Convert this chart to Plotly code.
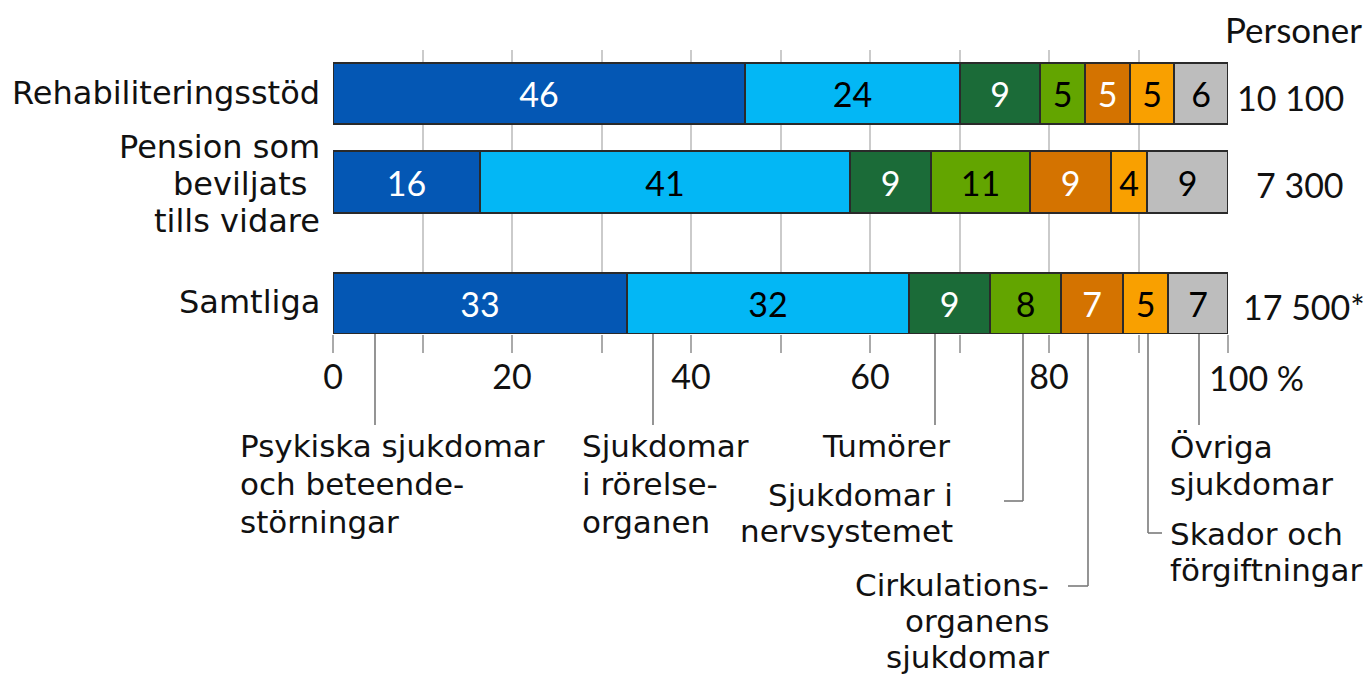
import plotly.graph_objects as go

# ---------------- data ----------------
groups = [["Rehabiliteringsstöd"], ["Pension som", "beviljats", "tills vidare"], ["Samtliga"]]
persons = ["10 100", "7 300", "17 500*"]
cause_lines = [
    ["Psykiska sjukdomar", "och beteende-", "störningar"],
    ["Sjukdomar", "i rörelse-", "organen"],
    ["Tumörer"],
    ["Sjukdomar i", "nervsystemet"],
    ["Cirkulations-", "organens", "sjukdomar"],
    ["Skador och", "förgiftningar"],
    ["Övriga", "sjukdomar"],
]
# percent shares per cause, order: Rehabiliteringsstöd, Pension, Samtliga
share_psyk = [46, 16.4, 32.8]
share_rorelse = [24, 41.4, 31.6]
share_tumor = [9, 9.0, 9.0]
share_nerv = [5, 11.1, 7.9]
share_cirk = [5, 9.0, 7.0]
share_skador = [5, 4.0, 5.0]
share_ovriga = [6, 9.1, 6.7]
shares = [share_psyk, share_rorelse, share_tumor, share_nerv, share_cirk, share_skador, share_ovriga]
x_ticks = [0, 10, 20, 30, 40, 50, 60, 70, 80, 90, 100]
x_ticktext = ["0", "", "20", "", "40", "", "60", "", "80", "", ""]
axis_unit = "100 %"
persons_title = "Personer"

# ---------------- style ----------------
colors = ["#0457B4", "#03B7F5", "#1B6B38", "#63A500", "#D47300", "#F9A000", "#BDBDBD"]
text_colors = ["white", "black", "white", "black", "white", "black", "black"]
NUM_FONT = "Lato"
LAB_FONT = "DejaVu Sans"
TXT = "#111111"
y_pos = [0, 1, 2.373]

# pixel geometry of plot area
PL, PR, PT, PB = 333, 1228, 50, 334
W, H = 1372, 674
UNIT = 88.5  # px per y unit
y_top = -(93.5 - PT) / UNIT
y_bot = y_pos[2] + (PB - 303.5) / UNIT


def xp(px):
    return (px - PL) / (PR - PL)


def yp(py):
    return (PB - py) / (PB - PT)


fig = go.Figure()
for lines, vals, col, tcol in zip(cause_lines, shares, colors, text_colors):
    fig.add_trace(go.Bar(
        y=y_pos, x=vals, orientation="h", name=" ".join(lines),
        marker=dict(color=col, line=dict(color="#2a2a2a", width=2)),
        width=0.69,
        text=[f"{round(v)}" for v in vals],
        textposition="inside", insidetextanchor="middle", textangle=0,
        textfont=dict(family=NUM_FONT, size=34, color=tcol),
        hoverinfo="skip",
    ))

anns = []


def ann(text, px, py, xanchor, size=31, family=LAB_FONT):
    anns.append(dict(text=text, x=xp(px), y=yp(py), xref="paper", yref="paper",
                     xanchor=xanchor, yanchor="middle", showarrow=False,
                     font=dict(family=family, size=size, color=TXT)))


# header + person counts
ann(persons_title, 1364, 29, "right", 35, NUM_FONT)
ann(persons[0], 1346, 97, "right", 34, NUM_FONT)
ann(persons[1], 1346, 184, "right", 34, NUM_FONT)
ann(persons[2], 1367, 306, "right", 34, NUM_FONT)
ann(axis_unit, 1207, 377, "left", 34, NUM_FONT)

# group labels (left)
ann(groups[0][0], 322, 93, "right", 32)
for line, yy, xr in zip(groups[1], [147, 184, 221], [322, 309, 322]):
    ann(line, xr, yy, "right", 32)
ann(groups[2][0], 322, 302, "right", 32)

# cause labels below
LS = 38
for i, line in enumerate(cause_lines[0]):
    ann(line, 238, 446 + i * LS, "left")
for i, line in enumerate(cause_lines[1]):
    ann(line, 580, 446 + i * LS, "left")
ann(cause_lines[2][0], 952, 446, "right")
for i, line in enumerate(cause_lines[3]):
    ann(line, 955, 495 + i * 36, "right")
for i, line in enumerate(cause_lines[4]):
    ann(line, 1051, 585 + i * 36, "right")
for i, line in enumerate(cause_lines[5]):
    ann(line, 1168, 534 + i * 36, "left")
for i, line in enumerate(cause_lines[6]):
    ann(line, 1168, 447 + i * 37, "left")

# leader lines
LC = dict(color="#7a7a7a", width=1.6)
shapes = []


def seg(x0, y0, x1, y1):
    shapes.append(dict(type="line", xref="paper", yref="paper",
                       x0=xp(x0), y0=yp(y0), x1=xp(x1), y1=yp(y1), line=LC))


seg(375, PB, 375, 425)
seg(653, PB, 653, 425)
seg(935, PB, 935, 425)
seg(1023, PB, 1023, 501)
seg(1023, 501, 1004, 501)
seg(1088, PB, 1088, 586)
seg(1088, 586, 1068, 586)
seg(1148, PB, 1148, 533)
seg(1148, 533, 1162, 533)
seg(1199, PB, 1199, 425)

fig.update_layout(
    width=W, height=H,
    barmode="stack", bargap=0,
    showlegend=False,
    plot_bgcolor="white", paper_bgcolor="white",
    margin=dict(l=PL, r=W - PR, t=PT, b=H - PB, pad=0),
    uniformtext=dict(mode="show", minsize=34),
    annotations=anns, shapes=shapes,
    font=dict(family=NUM_FONT, color=TXT),
)
fig.update_xaxes(
    range=[0, 100], tickvals=x_ticks, ticktext=x_ticktext,
    showgrid=True, gridcolor="#CBCBCB", gridwidth=1.5,
    ticks="outside", ticklen=18, tickcolor="#AAAAAA", tickwidth=1.5,
    tickfont=dict(family=NUM_FONT, size=34, color=TXT),
    ticklabelstandoff=-5,
    zeroline=False, showline=False, fixedrange=True,
)
fig.update_yaxes(
    range=[y_bot, y_top], tickvals=y_pos, showticklabels=False,
    showgrid=False, zeroline=False, showline=False, ticks="", fixedrange=True,
)

fig.write_html("out.html", config={"displayModeBar": False},
               post_script="document.body.style.margin='0px';")
